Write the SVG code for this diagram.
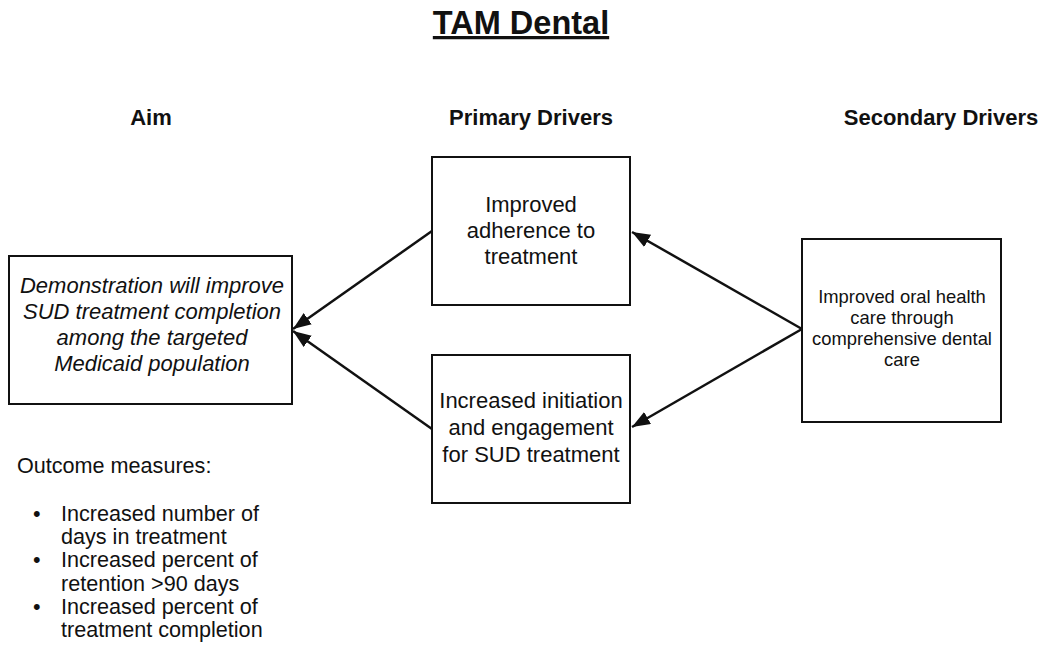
<svg xmlns="http://www.w3.org/2000/svg" width="1044" height="646" viewBox="0 0 1044 646">
<style>
text{font-family:"Liberation Sans",Arial,sans-serif;fill:#111}
.title{font-size:32.5px;font-weight:bold;text-decoration:underline}
.hdr{font-size:22px;font-weight:bold}
.box{fill:#fff;stroke:#111;stroke-width:2}
.aim{font-size:22px;font-style:italic}
.pri{font-size:22px}
.sec{font-size:18.4px}
.out{font-size:21.6px}
.conn{stroke:#111;stroke-width:2.5;fill:none;marker-end:url(#arr)}
</style>
<defs>
<marker id="arr" markerUnits="userSpaceOnUse" markerWidth="20" markerHeight="16" refX="18" refY="7" orient="auto">
<path d="M0,0 L18,7 L0,14 Z" fill="#111"/>
</marker>
</defs>
<rect width="1044" height="646" fill="#fff"/>
<text class="title" x="521" y="34" text-anchor="middle">TAM Dental</text>
<text class="hdr" x="151" y="125" text-anchor="middle">Aim</text>
<text class="hdr" x="531" y="125" text-anchor="middle">Primary Drivers</text>
<text class="hdr" x="941" y="125" text-anchor="middle">Secondary Drivers</text>
<g id="aim">
<rect class="box" x="9" y="256" width="283" height="148"/>
<text class="aim" text-anchor="middle"><tspan x="152" y="293">Demonstration will improve</tspan><tspan x="152" y="319">SUD treatment completion</tspan><tspan x="152" y="345">among the targeted</tspan><tspan x="152" y="371">Medicaid population</tspan></text>
</g>
<g id="primary1">
<rect class="box" x="432" y="157" width="198" height="148"/>
<text class="pri" text-anchor="middle"><tspan x="531" y="212">Improved</tspan><tspan x="531" y="238">adherence to</tspan><tspan x="531" y="264">treatment</tspan></text>
</g>
<g id="primary2">
<rect class="box" x="432" y="355" width="198" height="148"/>
<text class="pri" text-anchor="middle"><tspan x="531" y="408">Increased initiation</tspan><tspan x="531" y="435">and engagement</tspan><tspan x="531" y="462">for SUD treatment</tspan></text>
</g>
<g id="secondary">
<rect class="box" x="802" y="239" width="199" height="183"/>
<text class="sec" text-anchor="middle"><tspan x="902" y="303">Improved oral health</tspan><tspan x="902" y="324">care through</tspan><tspan x="902" y="345">comprehensive dental</tspan><tspan x="902" y="366">care</tspan></text>
</g>
<g id="outcomes">
<text class="out" x="17" y="473">Outcome measures:</text>
<text class="out"><tspan x="33" y="521">•</tspan><tspan x="61" y="521">Increased number of</tspan><tspan x="61" y="544">days in treatment</tspan><tspan x="33" y="567">•</tspan><tspan x="61" y="567">Increased percent of</tspan><tspan x="61" y="591">retention &gt;90 days</tspan><tspan x="33" y="614">•</tspan><tspan x="61" y="614">Increased percent of</tspan><tspan x="61" y="637">treatment completion</tspan></text>
</g>
<g id="connectors">
<line class="conn" x1="432" y1="231" x2="293" y2="329"/>
<line class="conn" x1="432" y1="429" x2="293" y2="331"/>
<line class="conn" x1="802" y1="329" x2="632" y2="232"/>
<line class="conn" x1="802" y1="329" x2="632" y2="427"/>
</g>
</svg>
